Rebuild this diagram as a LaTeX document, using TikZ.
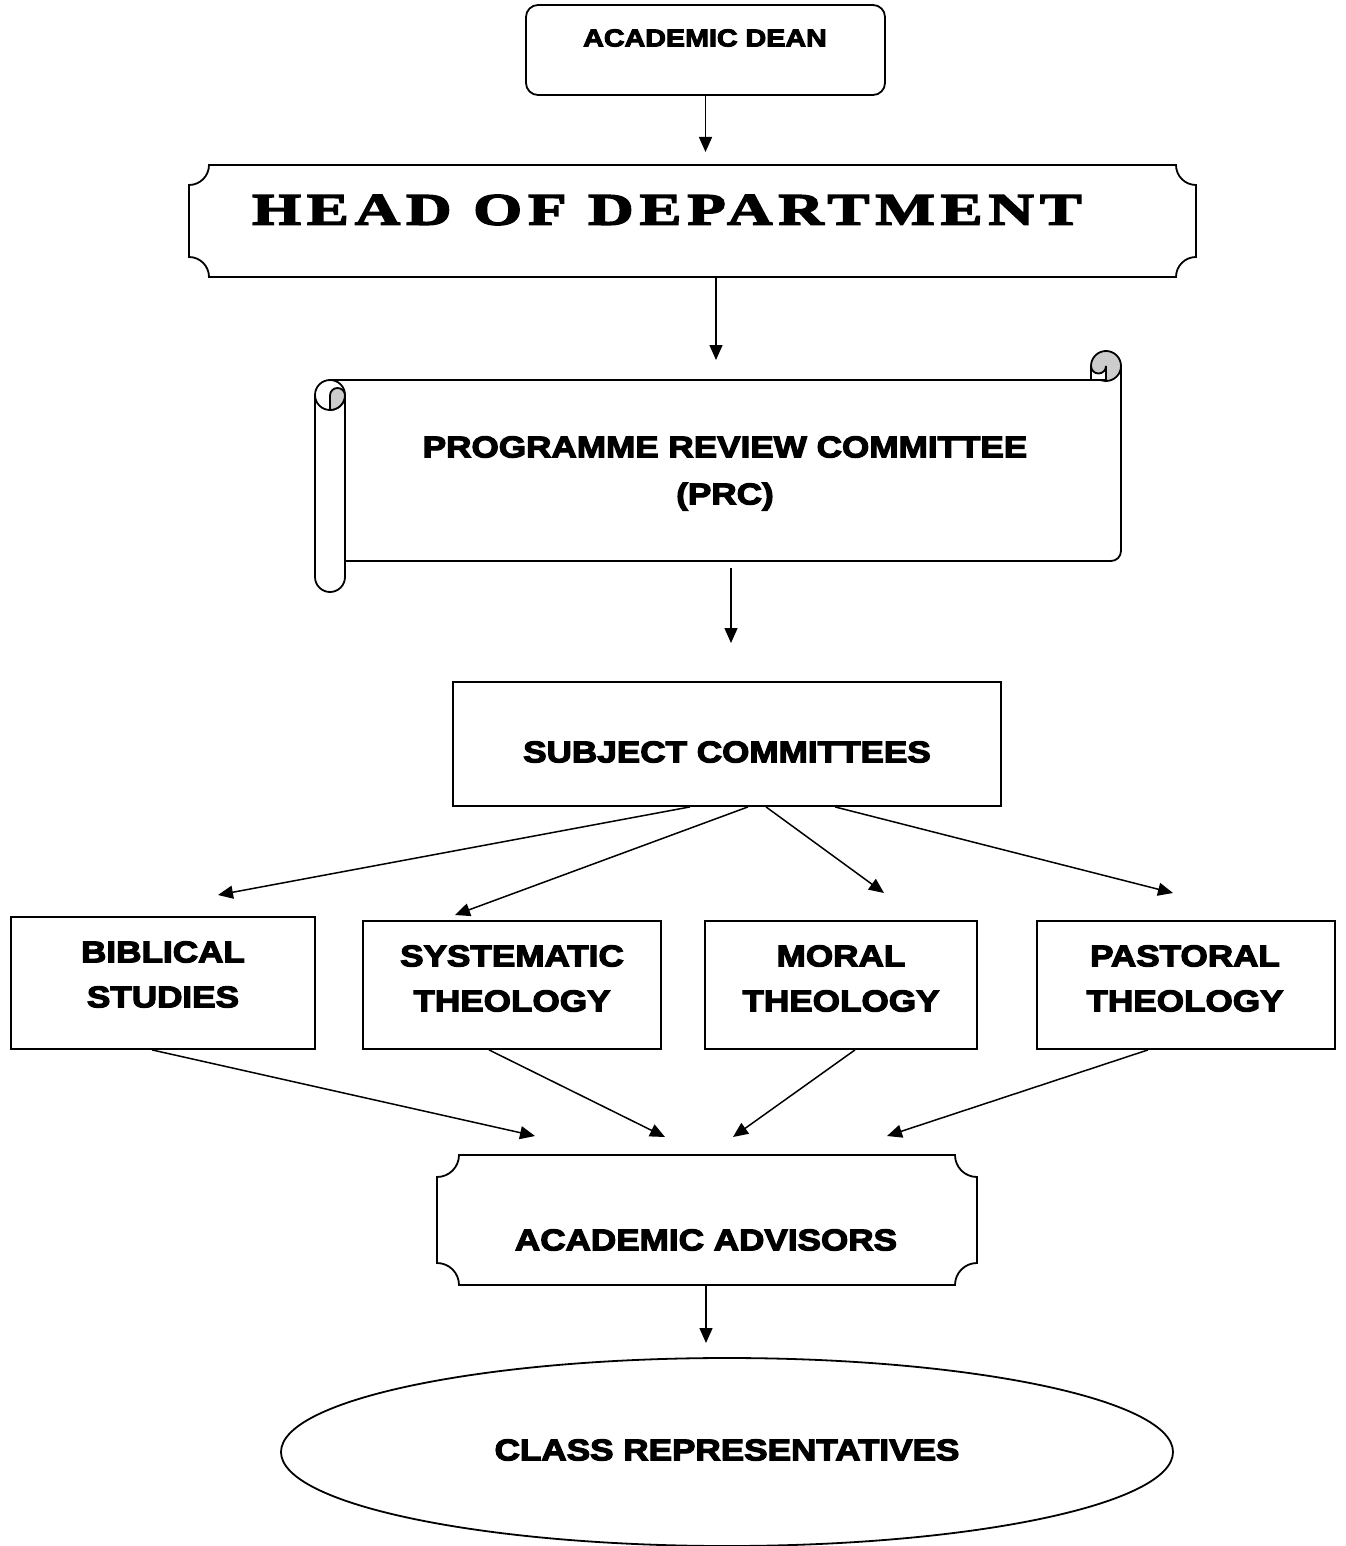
\documentclass[tikz,border=0pt]{standalone}
\usepackage{fontspec}
\usetikzlibrary{arrows.meta,shapes.geometric}
\newfontfamily\heavy{Liberation Sans}[UprightFont={* Bold},FakeStretch=1.17,FakeBold=4]
\newfontfamily\deco{Liberation Serif}[UprightFont={* Bold},FakeStretch=1.4,LetterSpace=13,FakeBold=3.5]
\definecolor{curlgray}{RGB}{204,204,204}
\newcommand\plaquepath[5]{%
  \draw (#1+#5,#2) -- (#3-#5,#2) arc[start angle=180,end angle=270,radius=#5]
    -- (#3,#4+#5) arc[start angle=90,end angle=180,radius=#5]
    -- (#1+#5,#4) arc[start angle=0,end angle=90,radius=#5]
    -- (#1,#2-#5) arc[start angle=270,end angle=360,radius=#5] -- cycle;}
\begin{document}
\begin{tikzpicture}[x=1pt,y=1pt,line width=1.8pt,
  arr/.style={-{Triangle[length=15pt,width=13pt]},line width=1.5pt},
  lbl/.style={font=\heavy\fontsize{30}{45}\selectfont,align=center,inner sep=0pt},
  framebox/.style={draw,rectangle,inner sep=0pt},
  shapebox/.style={rectangle,inner sep=0pt}]
\useasboundingbox (0,0) rectangle (1345,-1546);

% Academic Dean
\node[framebox,rounded corners=12pt,minimum width=359,minimum height=90] (dean) at (705.5,-50) {};
\node[lbl,font=\heavy\fontsize{24.5}{30}\selectfont] (deant) at (705,-38) {ACADEMIC DEAN};

% Head of Department
\node[shapebox,minimum width=1007,minimum height=112] (hod) at (692.5,-221) {};
\plaquepath{189}{-165}{1196}{-277}{20}
\node[inner sep=0pt,font=\deco\fontsize{45}{50}\selectfont] (hodt) at (667,-210) {HEAD OF DEPARTMENT};

% Programme review committee scroll
\node[shapebox,minimum width=806,minimum height=212] (prc) at (718,-486) {};
\draw (345,-561) -- (1111,-561) arc[start angle=270,end angle=360,radius=10] -- (1121,-366);
\draw (330,-380) -- (1106,-380);
\draw[fill=curlgray] (1106,-366) circle[radius=15];
\draw[fill=white] (1091,-380) -- (1091,-366) arc[start angle=180,end angle=360,radius=7.5] -- (1106,-380) -- cycle;
\draw[fill=white] (315,-395) -- (315,-577) arc[start angle=180,end angle=360,radius=15] -- (345,-395);
\draw[fill=white] (330,-395) circle[radius=15];
\draw[fill=curlgray] (330,-410) -- (330,-395.5) arc[start angle=180,end angle=0,radius=7.5] -- (345,-395) arc[start angle=0,end angle=-90,radius=15] -- cycle;
\node[lbl,font=\heavy\fontsize{30}{47}\selectfont] (prct) at (725,-473.5) {PROGRAMME REVIEW COMMITTEE\\(PRC)};

% Subject committees
\node[framebox,minimum width=548,minimum height=124] (sc) at (727,-744) {};
\node[lbl] (sct) at (727,-752) {SUBJECT COMMITTEES};

% Four departments
\node[framebox,minimum width=304,minimum height=132] (bib) at (163,-983) {};
\node[lbl] (bibt) at (163,-974.5) {BIBLICAL\\STUDIES};
\node[framebox,minimum width=298,minimum height=128] (sys) at (512,-985) {};
\node[lbl] (syst) at (512,-978.5) {SYSTEMATIC\\THEOLOGY};
\node[framebox,minimum width=272,minimum height=128] (mor) at (841,-985) {};
\node[lbl] (mort) at (841,-978.5) {MORAL\\THEOLOGY};
\node[framebox,minimum width=298,minimum height=128] (pas) at (1186,-985) {};
\node[lbl] (past) at (1185,-978.5) {PASTORAL\\THEOLOGY};

% Academic advisors
\node[shapebox,minimum width=540,minimum height=130] (adv) at (707,-1220) {};
\plaquepath{437}{-1155}{977}{-1285}{22}
\node[lbl] (advt) at (706,-1240) {ACADEMIC ADVISORS};

% Class representatives
\node[draw,ellipse,inner sep=0pt,minimum width=892,minimum height=188] (cr) at (727,-1452) {};
\node[lbl] (crt) at (727,-1450) {CLASS REPRESENTATIVES};

% arrow free ends
\coordinate (e1) at (705.5,-152);
\coordinate (s2) at (716,-277);
\coordinate (e2) at (716,-360);
\coordinate (s3) at (731,-568);
\coordinate (e3) at (731,-643);
\coordinate (a1) at (218,-895);
\coordinate (a2) at (455,-915);
\coordinate (a3) at (884,-893);
\coordinate (a4) at (1173,-893);
\coordinate (b1) at (535,-1136);
\coordinate (b2) at (665,-1137);
\coordinate (b3) at (733,-1137);
\coordinate (b4) at (887,-1136);
\coordinate (e4) at (706,-1343);

\draw[arr] (dean.south) -- (e1);
\draw[arr] (s2) -- (e2);
\draw[arr] (s3) -- (e3);
\draw[arr] (sc.south -| 690,0) -- (a1);
\draw[arr] (sc.south -| 748,0) -- (a2);
\draw[arr] (sc.south -| 766,0) -- (a3);
\draw[arr] (sc.south -| 835,0) -- (a4);
\draw[arr] (bib.south -| 152,0) -- (b1);
\draw[arr] (sys.south -| 489,0) -- (b2);
\draw[arr] (mor.south -| 855,0) -- (b3);
\draw[arr] (pas.south -| 1148,0) -- (b4);
\draw[arr] (adv.south -| 706,0) -- (e4);
\end{tikzpicture}
\end{document}
